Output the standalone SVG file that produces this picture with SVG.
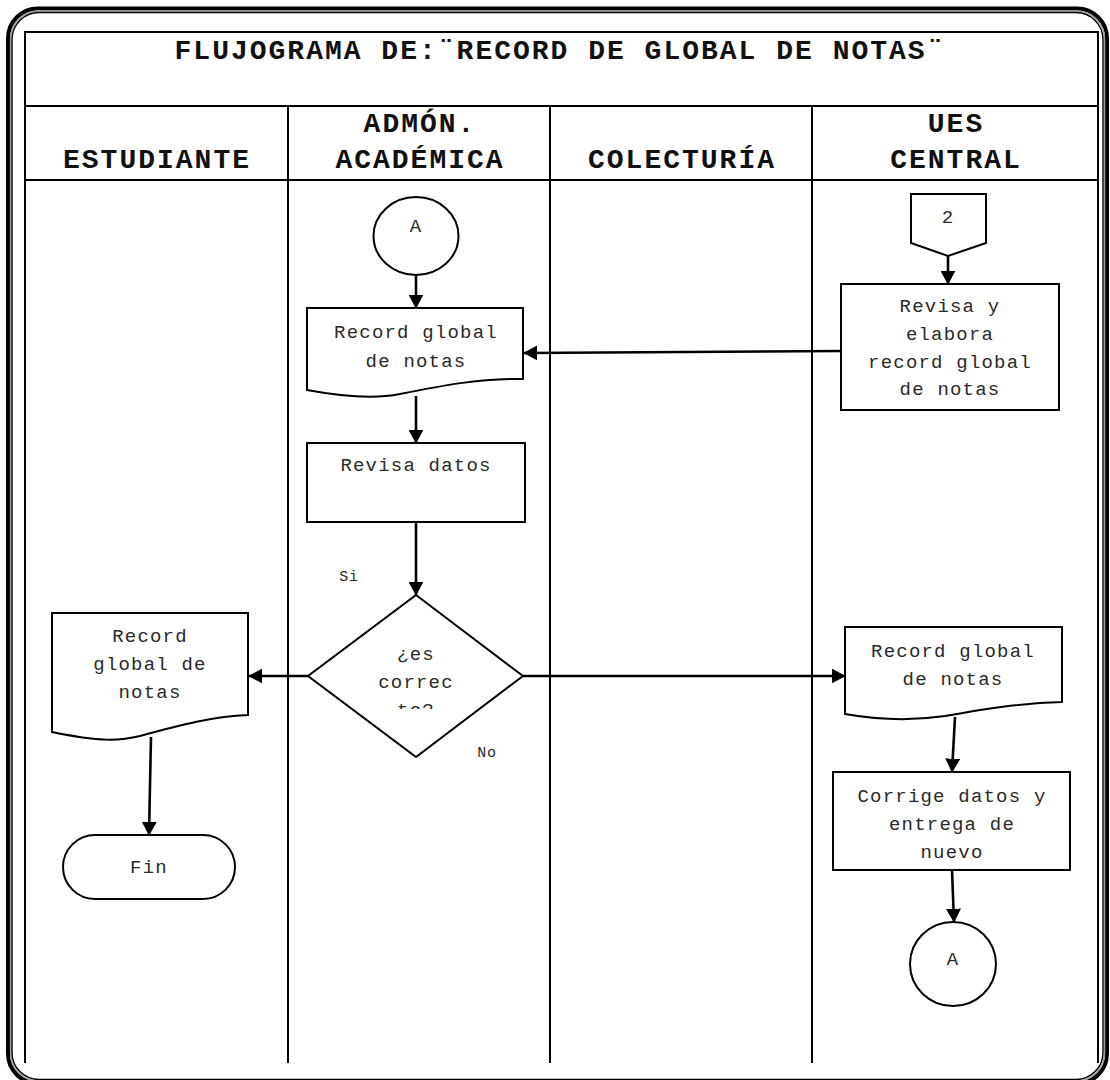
<svg xmlns="http://www.w3.org/2000/svg" width="1110" height="1080" viewBox="0 0 1110 1080">
  <defs>
    <style>
      .frame { fill: none; }
      .grid { stroke: #000; stroke-width: 2; fill: none; }
      .shape { fill: #fff; stroke: #000; stroke-width: 2; }
      .flow { stroke: #000; stroke-width: 2.6; fill: none; marker-end: url(#arrow); }
      .title { font-family: "Liberation Mono", "DejaVu Sans Mono", monospace; font-weight: bold; font-size: 28px; letter-spacing: 2px; fill: #111; text-anchor: middle; }
      .body { font-family: "Liberation Mono", "DejaVu Sans Mono", monospace; font-size: 19px; letter-spacing: 1.2px; fill: #2a2a2a; text-anchor: middle; }
      .small { font-family: "Liberation Mono", "DejaVu Sans Mono", monospace; font-size: 15px; letter-spacing: 0.8px; fill: #2a2a2a; text-anchor: middle; }
    </style>
    <marker id="arrow" viewBox="0 0 10 10" refX="9.5" refY="5" markerUnits="userSpaceOnUse" markerWidth="14" markerHeight="15" orient="auto" preserveAspectRatio="none">
      <path d="M0,0 L10,5 L0,10 z" fill="#000"/>
    </marker>
    <clipPath id="diamondText">
      <rect x="330" y="620" width="170" height="89"/>
    </clipPath>
  </defs>

  <rect width="1110" height="1080" fill="#fff"/>

  <!-- page frame: thick / grey / thin rounded border -->
  <g id="frame">
    <rect class="frame" x="8" y="8.5" width="1099" height="1075" rx="30" stroke="#000" stroke-width="4"/>
    <rect class="frame" x="10.6" y="11" width="1094" height="1070" rx="28" stroke="#9a9a9a" stroke-width="1.4"/>
    <rect class="frame" x="12" y="12.5" width="1091" height="1067" rx="27" stroke="#000" stroke-width="1.4"/>
  </g>

  <!-- swimlane table -->
  <g id="table">
    <path class="grid" d="M25,1063 V32 H1098 V1063"/>
    <line class="grid" x1="25" y1="106" x2="1098" y2="106"/>
    <line class="grid" x1="25" y1="180" x2="1098" y2="180"/>
    <line class="grid" x1="288" y1="106" x2="288" y2="1063"/>
    <line class="grid" x1="550" y1="106" x2="550" y2="1063"/>
    <line class="grid" x1="812" y1="106" x2="812" y2="1063"/>
    <text class="title" x="560" y="59">FLUJOGRAMA DE:¨RECORD DE GLOBAL DE NOTAS¨</text>
    <text class="title" x="157" y="168">ESTUDIANTE</text>
    <text class="title" x="420" y="132">ADMÓN.</text>
    <text class="title" x="420" y="168">ACADÉMICA</text>
    <text class="title" x="682" y="168">COLECTURÍA</text>
    <text class="title" x="956" y="132">UES</text>
    <text class="title" x="956" y="168">CENTRAL</text>
  </g>

  <!-- connectors -->
  <g id="connectors">
    <line class="flow" x1="416" y1="275" x2="416" y2="308"/>
    <line class="flow" x1="416" y1="396" x2="416" y2="443"/>
    <line class="flow" x1="416" y1="522" x2="416" y2="595"/>
    <line class="flow" x1="308" y1="676" x2="249" y2="676"/>
    <line class="flow" x1="523" y1="676" x2="845" y2="676"/>
    <line class="flow" x1="151" y1="737" x2="149" y2="835"/>
    <line class="flow" x1="948" y1="256" x2="948" y2="284"/>
    <line class="flow" x1="841" y1="351" x2="524" y2="353"/>
    <line class="flow" x1="955" y1="717" x2="952" y2="772"/>
    <line class="flow" x1="952" y1="870" x2="954" y2="922"/>
    <text class="small" x="349" y="581">Si</text>
    <text class="small" x="487" y="757">No</text>
  </g>

  <!-- ADMÓN. ACADÉMICA lane -->
  <g id="connector-a-top">
    <ellipse class="shape" cx="416" cy="236" rx="42.5" ry="39"/>
    <text class="body" x="416" y="232">A</text>
  </g>
  <g id="doc-record-admon">
    <path class="shape" d="M307,308 H523 V379 C480,378 440,386 400,394 C380,398 350,398 307,390 Z"/>
    <text class="body" x="416" y="338">Record global</text>
    <text class="body" x="416" y="367">de notas</text>
  </g>
  <g id="proc-revisa-datos">
    <rect class="shape" x="307" y="443" width="218" height="79"/>
    <text class="body" x="416" y="471">Revisa datos</text>
  </g>
  <g id="decision-correcto">
    <path class="shape" d="M416,595 L523,676 L416,757 L308,676 Z"/>
    <text class="body" x="416" y="660">¿es</text>
    <text class="body" x="416" y="688">correc</text>
    <text class="body" x="416" y="716" clip-path="url(#diamondText)">to?</text>
  </g>

  <!-- ESTUDIANTE lane -->
  <g id="doc-record-estudiante">
    <path class="shape" d="M52,613 H248 V715 C215,716 180,725 140,736 C120,741 100,742 52,732 Z"/>
    <text class="body" x="150" y="642">Record</text>
    <text class="body" x="150" y="670">global de</text>
    <text class="body" x="150" y="698">notas</text>
  </g>
  <g id="term-fin">
    <rect class="shape" x="63" y="835" width="172" height="64" rx="32"/>
    <text class="body" x="149" y="873">Fin</text>
  </g>

  <!-- UES CENTRAL lane -->
  <g id="offpage-2">
    <path class="shape" d="M911,194 H986 V243 L948,256 L911,243 Z"/>
    <text class="body" x="948" y="223">2</text>
  </g>
  <g id="proc-revisa-elabora">
    <rect class="shape" x="841" y="284" width="218" height="126"/>
    <text class="body" x="950" y="312">Revisa y</text>
    <text class="body" x="950" y="340">elabora</text>
    <text class="body" x="950" y="368">record global</text>
    <text class="body" x="950" y="395">de notas</text>
  </g>
  <g id="doc-record-ues">
    <path class="shape" d="M845,627 H1062 V702 C1020,703 985,709 945,716 C925,719 890,722 845,714 Z"/>
    <text class="body" x="953" y="657">Record global</text>
    <text class="body" x="953" y="685">de notas</text>
  </g>
  <g id="proc-corrige">
    <rect class="shape" x="833" y="772" width="237" height="98"/>
    <text class="body" x="952" y="802">Corrige datos y</text>
    <text class="body" x="952" y="830">entrega de</text>
    <text class="body" x="952" y="858">nuevo</text>
  </g>
  <g id="connector-a-bottom">
    <ellipse class="shape" cx="953" cy="964" rx="43" ry="42"/>
    <text class="body" x="953" y="965">A</text>
  </g>
</svg>
